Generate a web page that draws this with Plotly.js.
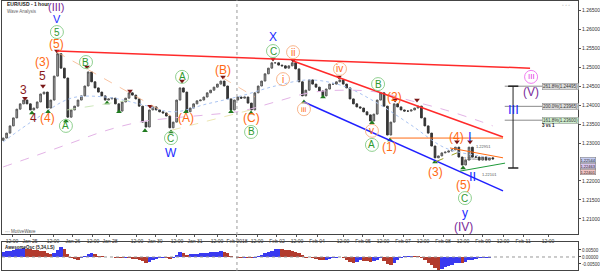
<!DOCTYPE html>
<html><head><meta charset="utf-8">
<script src="https://cdn.plot.ly/plotly-3.0.1.min.js"></script>
<style>html,body{margin:0;padding:0;background:#fff}#chart{width:600px;height:271px}</style>
</head><body><div id="chart"></div>
<script>
// ---- data (hours since first tick, 2-hour steps starting at -4) ----
const startHour = -4, stepHours = 2;
const closes = [
1.2313,1.2326,1.2345,1.2366,1.2389,1.2403,1.2413,1.2403,1.2387,1.2392,
1.2408,1.2429,1.2434,1.2392,1.2413,1.2476,1.2535,1.2497,1.2471,1.2368,
1.2387,1.2397,1.2413,1.2424,1.2450,1.2487,1.2461,1.2445,1.2434,1.2424,
1.2413,1.2416,1.2418,1.2403,1.2384,1.2408,1.2418,1.2432,1.2426,1.2416,
1.2397,1.2355,1.2342,1.2387,1.2395,1.2387,1.2382,1.2379,1.2371,1.2340,
1.2355,1.2413,1.2445,1.2434,1.2382,1.2392,1.2403,1.2411,1.2413,1.2421,
1.2432,1.2439,1.2447,1.2455,1.2463,1.2450,1.2416,1.2387,1.2413,1.2421,
1.2418,1.2421,1.2405,1.2387,1.2432,1.2450,1.2463,1.2482,1.2497,1.2511,
1.2511,1.2505,1.2503,1.2497,1.2503,1.2511,1.2495,1.2461,1.2424,1.2439,
1.2466,1.2455,1.2447,1.2437,1.2424,1.2442,1.2455,1.2455,1.2461,1.2466,
1.2455,1.2445,1.2416,1.2403,1.2395,1.2392,1.2382,1.2374,1.2358,1.2376,
1.2413,1.2432,1.2397,1.2321,1.2355,1.2403,1.2395,1.2387,1.2384,1.2384,
1.2387,1.2392,1.2397,1.2366,1.2345,1.2326,1.2292,1.2261,1.2266,1.2274,
1.2276,1.2279,1.2282,1.2289,1.2263,1.2242,1.2255,1.2289,1.2263,1.2263,
1.2255,1.2263,1.2255,1.2261,1.2258];
// Awesome oscillator, in thousandths
const aoMilli = [
3.5,4.0,4.5,5.0,5.5,6.0,6.2,6.0,5.5,5.0,
4.8,4.5,4.0,3.0,2.0,3.0,5.0,7.0,6.0,2.0,
-0.5,-1.5,-1.8,-1.0,0.5,2.0,3.0,2.0,1.0,0.5,
0.2,0.0,-0.3,-0.5,-0.6,-0.8,-0.8,-1.0,-1.2,-1.5,
-2.0,-3.0,-4.0,-3.5,-2.5,-1.5,-1.0,-0.8,-1.0,-1.5,
-0.5,1.5,3.5,2.5,1.5,1.8,2.0,2.2,2.5,2.8,
3.0,3.3,3.5,3.8,4.0,3.5,2.5,1.0,-0.3,-0.5,
-0.6,-0.5,-0.7,-1.0,-0.5,0.5,1.5,2.5,3.5,4.5,
5.5,6.0,5.8,5.3,4.8,4.3,3.8,2.8,1.2,-0.5,
-0.2,-0.5,-1.2,-2.0,-2.5,-2.0,-1.5,-1.0,-0.5,0.2,
-0.5,-2.0,-3.5,-4.0,-3.5,-2.5,-2.8,-3.0,-3.5,-3.2,
-2.0,-1.0,-3.0,-5.0,-6.0,-4.0,-2.0,-0.5,0.5,0.8,
1.0,0.8,0.5,-0.5,-2.0,-4.0,-6.0,-8.0,-9.0,-8.5,
-7.5,-6.5,-5.5,-4.5,-4.0,-4.2,-3.5,-2.5,-2.0,-1.5,
-1.0,-0.8,-0.6,-0.4,-0.3];
// moving averages (20-hour samples)
const maHours = [-4,16,36,56,76,96,116,136,156,176,196,216,236,256,276,284];
const slowMA = [1.2237,1.2268,1.2300,1.2332,1.2355,1.2366,1.2374,1.2384,1.2408,1.2432,1.2439,1.2434,1.2411,1.2387,1.2358,1.2345];
const fastMA = [1.2303,1.2366,1.2418,1.2421,1.2403,1.2382,1.2403,1.2424,1.2450,1.2466,1.2450,1.2405,1.2347,1.2287,1.2266,1.2261];
// time axis
const tickHours = [1.2,11.8,25.3,37,48.8,58.8,74.7,85.3,98.2,108.8,121.8,133.5,145.3,157,168.8,180.6,195.9,207.6,219.4,231.2,243,254.7,266.5,278.2,290,301.8,316.5];
const tickLabels = ["12:00","Jan 25","12:00","Jan 26","12:00","Jan 28","12:00","Jan 30","12:00","Jan 31","12:00","Feb 2018","12:00","Feb 02","12:00","Feb 04","12:00","Feb 05","12:00","Feb 07","12:00","Feb 08","12:00","Feb 09","12:00","Feb 11","12:00"];
// price axis ticks (1.22500 is hidden behind the price boxes)
const priceTicks = [1.210,1.215,1.220,1.230,1.235,1.240,1.245,1.250,1.255,1.260,1.265];
// pivot markers
const topHours = [8.8,19.4,27.6,45.3,70.6,82.4,101.2,125.3,154.7,166.5,193.5,226.5,239.4,262.9,270.6];
const topPrices = [1.2418,1.2450,1.2542,1.2500,1.2437,1.2397,1.2463,1.2474,1.2521,1.2518,1.2474,1.2413,1.2413,1.2303,1.2303];
const lowHours = [12.9,22.4,32.9,57.1,64.1,79.4,94.7,103.5,130,141.8,172.9,184.1,212.9,223.5,250,266.5];
const lowPrices = [1.2379,1.2382,1.2358,1.2405,1.2382,1.2332,1.2329,1.2382,1.2382,1.2379,1.2408,1.2421,1.2353,1.2308,1.2250,1.2234];
// wave labels: text, hour, price, colour key, circled
const waveLabels = [
["(III)",27.6,1.2659,"pu",0],["V",27.6,1.2625,"bl",0],["5",27.6,1.2592,"gr",1],["(5)",27.6,1.2561,"or",0],
["(3)",19.4,1.2513,"or",0],["5",19.4,1.2476,"dr",0],["3",8.2,1.2439,"dr",0],["4",14.1,1.2366,"dr",0],["(4)",21.8,1.2366,"or",0],
["A",32.9,1.2345,"gr",1],["B",44.7,1.2513,"gr",1],["A",101.2,1.2474,"gr",1],["C",94.7,1.2313,"gr",1],["W",94.7,1.2274,"bl",0],
["(A)",103.5,1.2366,"or",0],["(B)",125.3,1.2492,"or",0],["(C)",141.8,1.2366,"or",0],["B",141.8,1.2329,"gr",1],
["C",154.7,1.2542,"gr",1],["X",154.7,1.2579,"bl",0],["ii",166.5,1.2539,"or",1],["i",160.6,1.2468,"or",1],["iii",172.9,1.2389,"or",1],
["iv",194.1,1.2495,"or",1],["v",212.9,1.2332,"or",1],["A",212.9,1.2295,"gr",1],["B",216.5,1.2455,"gr",1],
["(2)",225.9,1.2421,"or",0],["(1)",223.5,1.2289,"or",0],["(3)",250,1.2224,"or",0],["(4)",262.9,1.2316,"or",0],
["I",270.6,1.2318,"bl",0],["(5)",267,1.2189,"or",0],["C",267.6,1.2155,"gr",1],["II",271.8,1.2211,"bl",0],
["y",267.6,1.2116,"bl",0],["(IV)",267,1.2079,"pu",0],["III",306.5,1.2474,"mg",1],["(V)",306.5,1.2434,"pu",0],["III",295.9,1.2387,"bl",0]];
// analysis lines: h0,p0,h1,p1,colour,dash,width
const trendLines = [
[27.6,1.2542,305.9,1.2497,"#ff2a2a","solid",1.5],
[166.5,1.2516,290,1.2316,"#ff2a2a","solid",1.5],
[172.9,1.2408,290,1.2174,"#2020ff","solid",1.5],
[223.5,1.2313,290,1.2313,"#ff6a13","solid",1],
[258.8,1.2287,290,1.2261,"#ff6a13","solid",1],
[264.7,1.2226,291.2,1.2247,"#1f9a3a","solid",1],
[250,1.2250,262.9,1.2274,"#9aa020","dash",1],
[27.6,1.2539,94.7,1.2371,"#f7b48a","dash",0.8],
[125.3,1.2471,144.1,1.2421,"#f7b48a","dash",0.8],
[33.5,1.2387,70.6,1.2413,"#bfe0a8","dash",0.8],
[95.3,1.2334,145.9,1.2392,"#e6e0a0","dash",0.8]];
// fibonacci levels
const fibLevels = [1.24495,1.23965,1.23600];
const fibTexts = ["261.8%(1.24495)","200.0%(1.23965)","161.8%(1.23600)"];
const fibBg = ["#dcdcdc","#dcdcdc","#cfeecf"];
// price-axis boxes
const boxTexts = ["1.22544","1.22463","1.22401"];
const boxPrices = [1.22553,1.22395,1.22237];
const boxBg = ["#c6cdf2","#d9c6ee","#f3c4c4"];

// ---- build ----
const hours = closes.map((_, i) => startHour + i * stepHours);
const opens = closes.map((c, i) => i ? closes[i - 1] : c - 0.0006);
const highs = closes.map((c, i) => Math.max(c, opens[i]));
const lows = closes.map((c, i) => Math.min(c, opens[i]));
const ao = aoMilli.map(v => v / 1000);
const aoColors = ao.map((v, i) => (i === 0 || v >= ao[i - 1]) ? "#3a3af0" : "#b23b2e");
const col = {pu:"#7a2a9a", bl:"#1a2bff", gr:"#2f9a2f", or:"#ff6a13", dr:"#8b1a1a", mg:"#e23ae2"};
const ring = {gr:"#8fd08f", or:"#f9b68c", mg:"#f07cf0"};
const FONT = "Liberation Sans, Arial, sans-serif";

const traces = [
 {type:"scatter", mode:"lines", x:maHours, y:slowMA, line:{color:"#e3b3e6", width:1, dash:"dash", shape:"spline"}, hoverinfo:"skip"},
 {type:"scatter", mode:"lines", x:maHours, y:fastMA, line:{color:"#aac4f2", width:1, dash:"dot", shape:"spline"}, hoverinfo:"skip"},
 {type:"candlestick", x:hours, open:opens, high:highs, low:lows, close:closes,
  increasing:{line:{color:"#555", width:1}, fillcolor:"#a8a8a8"},
  decreasing:{line:{color:"#333", width:1}, fillcolor:"#3a3a3a"}, whiskerwidth:0, hoverinfo:"skip"},
 {type:"scatter", mode:"markers", x:topHours, y:topPrices, marker:{symbol:"triangle-down", size:5, color:"#7a1717"}, hoverinfo:"skip"},
 {type:"scatter", mode:"markers", x:lowHours, y:lowPrices, marker:{symbol:"triangle-up", size:5, color:"#1f7a1f"}, hoverinfo:"skip"},
 {type:"bar", x:hours, y:ao, xaxis:"x2", yaxis:"y2", width:stepHours, marker:{color:aoColors, line:{width:0}}, hoverinfo:"skip"}
];

const shapes = [];
const annotations = [];
trendLines.forEach(t => shapes.push({type:"line", xref:"x", yref:"y", x0:t[0], y0:t[1], x1:t[2], y1:t[3], line:{color:t[4], width:t[6], dash:t[5]}}));
shapes.push({type:"line", xref:"x", yref:"paper", x0:133.5, x1:133.5, y0:0, y1:1, line:{color:"#9a9a9a", width:1, dash:"dot"}});
shapes.push({type:"line", xref:"paper", yref:"y2", x0:2/600, x1:578/600, y0:0, y1:0, line:{color:"#999", width:1, dash:"dot"}});
fibLevels.forEach((lv, i) => {
  shapes.push({type:"line", xref:"x", yref:"y", x0:291, x1:315, y0:lv, y1:lv, line:{color:"#8a8a8a", width:1}});
  annotations.push({xref:"x", yref:"y", x:324, y:lv, text:fibTexts[i], showarrow:false, font:{family:FONT, size:4.5, color:"#333"}, bgcolor:fibBg[i], bordercolor:"#888", borderwidth:0.5, borderpad:0.5});
});
shapes.push({type:"line", xref:"x", yref:"y", x0:295.9, x1:295.9, y0:1.24495, y1:1.22342, line:{color:"#222", width:1}});
shapes.push({type:"line", xref:"x", yref:"y", x0:293, x1:299, y0:1.22342, y1:1.22342, line:{color:"#222", width:1.5}});
shapes.push({type:"line", xref:"x", yref:"y", x0:293, x1:299, y0:1.24495, y1:1.24495, line:{color:"#222", width:1.5}});
annotations.push({xref:"x", yref:"y", x:317, y:1.2346, text:"<b>3 vs 1</b>", showarrow:false, font:{family:FONT, size:4.5, color:"#222"}});

waveLabels.forEach(w => {
  const [t, h, p, c, circ] = w;
  const isCirc = !!circ;
  const plainSize = (t === "III" || t === "II" || t === "I") ? 13 : (t === "(III)" || t === "V" ? 11 : 12);
  annotations.push({xref:"x", yref:"y", x:h, y:p, text:t, showarrow:false,
    font:{family:FONT, size: isCirc ? (t.length > 2 ? 8 : 10) : plainSize, color:col[c]}});
  if (isCirc) shapes.push({type:"circle", xref:"x", yref:"y", xsizemode:"pixel", ysizemode:"pixel", xanchor:h, yanchor:p,
    x0:-6.5, x1:6.5, y0:-6.5, y1:6.5, line:{color:ring[c], width:1}});
});

[["1.22951",273,1.2290],["1.22502",266,1.2258],["1.22101",276.5,1.2216]].forEach(s =>
  annotations.push({xref:"x", yref:"y", x:s[1], y:s[2], xanchor:"left", text:s[0], showarrow:false, font:{family:FONT, size:4, color:"#555"}}));
boxTexts.forEach((b, i) =>
  annotations.push({xref:"paper", yref:"y", x:0.966, xanchor:"left", y:boxPrices[i], text:b, showarrow:false, font:{family:FONT, size:4, color:"#222"}, bgcolor:boxBg[i], bordercolor:"#777", borderwidth:0.5, borderpad:0}));

annotations.push({xref:"paper", yref:"paper", x:5/600, y:1-4/271, xanchor:"left", yanchor:"middle", text:"<b>EUR/USD - 1 hour</b>", showarrow:false, font:{family:FONT, size:5, color:"#222"}});
annotations.push({xref:"paper", yref:"paper", x:5/600, y:1-11/271, xanchor:"left", yanchor:"middle", text:"Wave Analysis", showarrow:false, font:{family:FONT, size:4.5, color:"#666"}});
annotations.push({xref:"paper", yref:"paper", x:3/600, y:1-231/271, xanchor:"left", yanchor:"middle", text:"◦◦◦ MotiveWave", showarrow:false, font:{family:FONT, size:4.5, color:"#555"}});
annotations.push({xref:"paper", yref:"paper", x:3/600, y:1-247/271, xanchor:"left", yanchor:"middle", text:"<b>AwesomeOsc (5,34,LS)</b>", showarrow:false, font:{family:FONT, size:4.5, color:"#222"}});
annotations.push({xref:"paper", yref:"paper", x:572/600, y:1-5/271, xanchor:"right", yanchor:"middle", text:"◦ ◦ ◦", showarrow:false, font:{family:FONT, size:5, color:"#888"}});

const layout = {
  width:600, height:271, margin:{l:0, r:0, t:0, b:0}, paper_bgcolor:"#fff", plot_bgcolor:"#fff", showlegend:false,
  font:{family:FONT, size:5, color:"#333"},
  xaxis:{domain:[2/600, 578/600], range:[-4.7, 334.1], anchor:"y", tickvals:tickHours, ticktext:tickLabels,
    tickfont:{size:5, color:"#333"}, ticks:"outside", ticklen:2, tickcolor:"#555", showgrid:false, zeroline:false,
    showline:true, linecolor:"#444", linewidth:1, mirror:true, rangeslider:{visible:false}, fixedrange:true},
  yaxis:{domain:[37/271, 270/271], range:[1.20605, 1.26737], side:"right", anchor:"x", tickvals:priceTicks, tickformat:".5f",
    tickfont:{size:5, color:"#333"}, ticks:"outside", ticklen:2, tickcolor:"#555", showgrid:false, zeroline:false,
    showline:true, linecolor:"#444", linewidth:1, mirror:true},
  xaxis2:{domain:[2/600, 578/600], matches:"x", anchor:"y2", showticklabels:false, ticks:"", showgrid:false, zeroline:false,
    showline:true, linecolor:"#444", linewidth:1, mirror:true},
  yaxis2:{domain:[1/271, 29/271], range:[-0.00929, 0.0107], side:"right", anchor:"x2", tickvals:[0.005, 0, -0.005],
    ticktext:["0.00500","0.00000","-0.00500"], tickfont:{size:4.5, color:"#333"}, ticks:"outside", ticklen:2, showgrid:false,
    zeroline:false, showline:true, linecolor:"#444", linewidth:1, mirror:true},
  bargap:0, shapes:shapes, annotations:annotations
};
Plotly.newPlot("chart", traces, layout, {staticPlot:true, displayModeBar:false});
</script></body></html>
